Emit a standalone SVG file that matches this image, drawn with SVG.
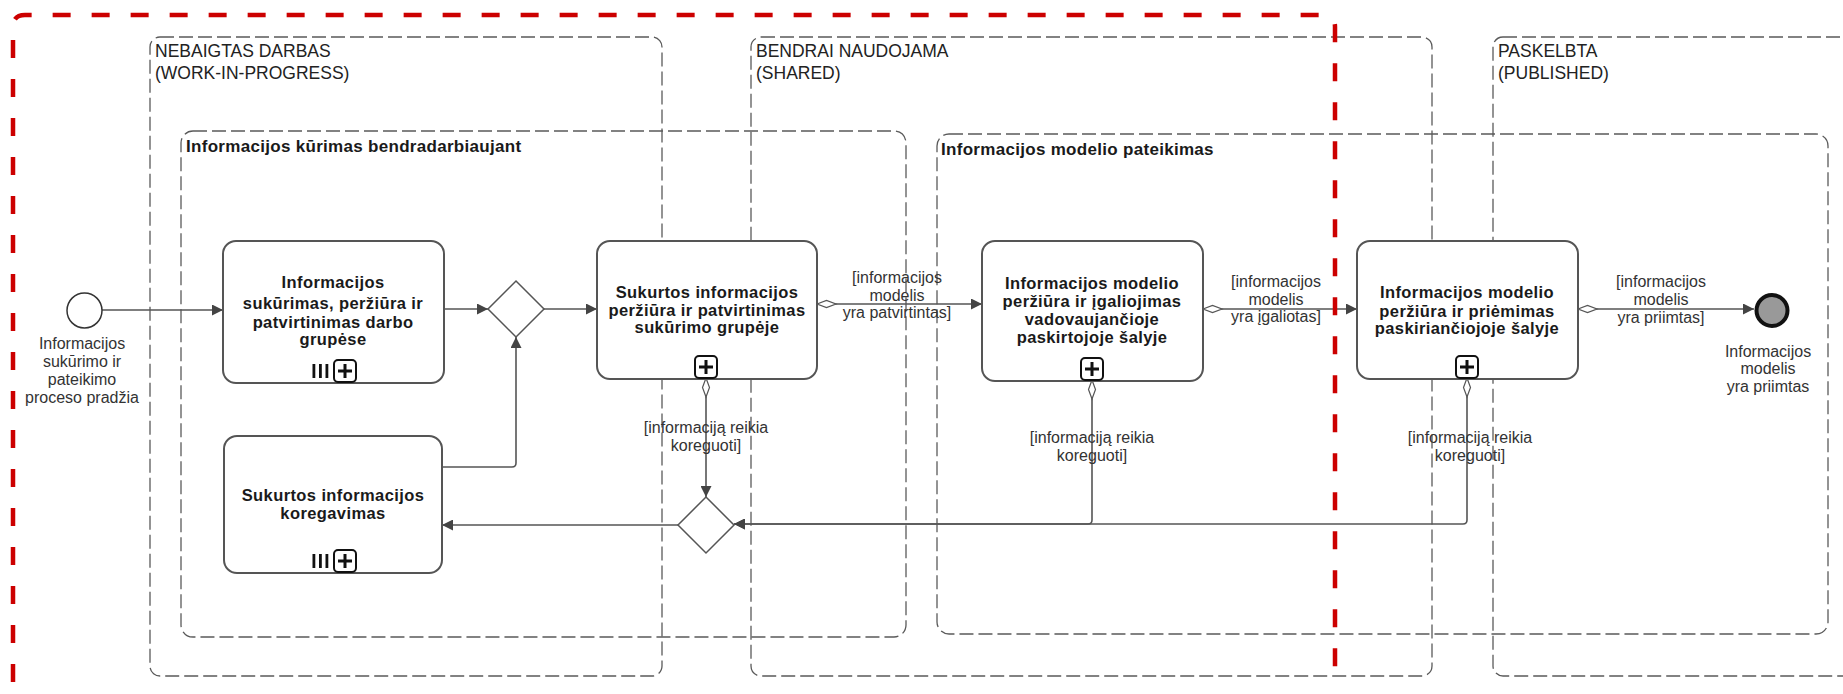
<svg xmlns="http://www.w3.org/2000/svg" width="1843" height="694" viewBox="0 0 1843 694">
  <style>
    .lane { fill: none; stroke: #5a5a5a; stroke-width: 1.3; stroke-dasharray: 14 5; }
    .sub { fill: none; stroke: #5a5a5a; stroke-width: 1.3; stroke-dasharray: 14 5; }
    .task { fill: #ffffff; stroke: #555555; stroke-width: 2; }
    .gw { fill: #ffffff; stroke: #555555; stroke-width: 1.5; }
    .flow { fill: none; stroke: #555555; stroke-width: 1.6; }
    .pbox { fill: #ffffff; stroke: #111111; stroke-width: 2; }
    .pline { stroke: #111111; stroke-width: 3; }
    .bar { fill: #111111; }
    .lt { font-family: "Liberation Sans", Arial, sans-serif; font-size: 17.5px; fill: #222222; }
    .st { font-family: "Liberation Sans", Arial, sans-serif; font-size: 17px; font-weight: bold; fill: #1a1a1a; letter-spacing: 0.3px; }
    .tt { font-family: "Liberation Sans", Arial, sans-serif; font-size: 16.5px; font-weight: bold; fill: #1a1a1a; text-anchor: middle; letter-spacing: 0.4px; }
    .fl { font-family: "Liberation Sans", Arial, sans-serif; font-size: 16px; fill: #333333; text-anchor: middle; }
    .scope { fill: none; stroke: #cc0000; stroke-width: 4.5; stroke-dasharray: 18 21; }
  </style>
  <defs>
    <marker id="arrow" markerUnits="userSpaceOnUse" markerWidth="11" markerHeight="11" refX="11" refY="5.5" orient="auto">
      <path d="M0,0 L11,5.5 L0,11 z" fill="#444444"/>
    </marker>
    <marker id="cond" markerUnits="userSpaceOnUse" markerWidth="22" markerHeight="10" refX="1" refY="5" orient="auto">
      <path d="M1,5 L10.5,1.5 L20,5 L10.5,8.5 z" fill="#ffffff" stroke="#555555" stroke-width="1.2"/>
    </marker>
  </defs>
  <rect width="1843" height="694" fill="#ffffff"/>

  <!-- lanes -->
  <g id="lane-wip">
    <rect class="lane" x="150" y="37" width="512" height="639" rx="10"/>
    <text class="lt" x="155" y="57">NEBAIGTAS DARBAS</text>
    <text class="lt" x="155" y="79">(WORK-IN-PROGRESS)</text>
  </g>
  <g id="lane-shared">
    <rect class="lane" x="751" y="37" width="681" height="639" rx="10"/>
    <text class="lt" x="756" y="57">BENDRAI NAUDOJAMA</text>
    <text class="lt" x="756" y="79">(SHARED)</text>
  </g>
  <g id="lane-published">
    <rect class="lane" x="1493" y="37" width="420" height="639" rx="10"/>
    <text class="lt" x="1498" y="57">PASKELBTA</text>
    <text class="lt" x="1498" y="79">(PUBLISHED)</text>
  </g>

  <!-- expanded sub-processes -->
  <g id="sub-collab">
    <rect class="sub" x="181" y="131" width="725" height="506" rx="12"/>
    <text class="st" x="186" y="152">Informacijos kūrimas bendradarbiaujant</text>
  </g>
  <g id="sub-submit">
    <rect class="sub" x="937" y="134" width="891" height="500" rx="12"/>
    <text class="st" x="941" y="155">Informacijos modelio pateikimas</text>
  </g>

  <!-- connectors -->
  <g id="connectors">
    <path class="flow" d="M102,310 H223" marker-end="url(#arrow)"/>
    <path class="flow" d="M444,309 H488" marker-end="url(#arrow)"/>
    <path class="flow" d="M544,309 H597" marker-end="url(#arrow)"/>
    <path class="flow" d="M442,467 H512 Q516,467 516,463 V337" marker-end="url(#arrow)"/>
    <path class="flow" d="M678,525 H442" marker-end="url(#arrow)"/>
    <path class="flow" d="M706,378 V497" marker-start="url(#cond)" marker-end="url(#arrow)"/>
    <path class="flow" d="M1092,380 V520 Q1092,524 1088,524 H734" marker-start="url(#cond)" marker-end="url(#arrow)"/>
    <path class="flow" d="M1467,378 V520 Q1467,524 1463,524 H734" marker-start="url(#cond)" marker-end="url(#arrow)"/>
    <path class="flow" d="M817,304 H982" marker-start="url(#cond)" marker-end="url(#arrow)"/>
    <path class="flow" d="M1203,309 H1357" marker-start="url(#cond)" marker-end="url(#arrow)"/>
    <path class="flow" d="M1578,309 H1754" marker-start="url(#cond)" marker-end="url(#arrow)"/>

    <text class="fl" x="897" y="283">[informacijos</text>
    <text class="fl" x="897" y="301">modelis</text>
    <text class="fl" x="897" y="318">yra patvirtintas]</text>

    <text class="fl" x="1276" y="287">[informacijos</text>
    <text class="fl" x="1276" y="304.5">modelis</text>
    <text class="fl" x="1276" y="322">yra įgaliotas]</text>

    <text class="fl" x="1661" y="287">[informacijos</text>
    <text class="fl" x="1661" y="305">modelis</text>
    <text class="fl" x="1661" y="323">yra priimtas]</text>

    <text class="fl" x="706" y="433">[informaciją reikia</text>
    <text class="fl" x="706" y="451">koreguoti]</text>

    <text class="fl" x="1092" y="443">[informaciją reikia</text>
    <text class="fl" x="1092" y="461">koreguoti]</text>

    <text class="fl" x="1470" y="443">[informaciją reikia</text>
    <text class="fl" x="1470" y="461">koreguoti]</text>
  </g>

  <!-- start event -->
  <g id="start">
    <circle cx="84.5" cy="310.5" r="17.5" fill="#ffffff" stroke="#333333" stroke-width="1.5"/>
    <text class="fl" x="82" y="349">Informacijos</text>
    <text class="fl" x="82" y="367">sukūrimo ir</text>
    <text class="fl" x="82" y="385">pateikimo</text>
    <text class="fl" x="82" y="403">proceso pradžia</text>
  </g>

  <!-- task: create, review, approve in work groups -->
  <g id="task-create">
    <rect class="task" x="223" y="241" width="221" height="142" rx="13"/>
    <text class="tt" x="333" y="288">Informacijos</text>
    <text class="tt" x="333" y="309">sukūrimas, peržiūra ir</text>
    <text class="tt" x="333" y="328">patvirtinimas darbo</text>
    <text class="tt" x="333" y="345">grupėse</text>
    <rect class="bar" x="312.5" y="364" width="2.8" height="14"/>
    <rect class="bar" x="319" y="364" width="2.8" height="14"/>
    <rect class="bar" x="325.5" y="364" width="2.8" height="14"/>
    <rect class="pbox" x="334" y="360" width="22" height="22" rx="4"/>
    <path class="pline" d="M338,371 H352 M345,364 V378"/>
  </g>

  <!-- gateway after creation -->
  <g id="gw-merge">
    <path class="gw" d="M516,281 L544,309 L516,337 L488,309 z"/>
  </g>

  <!-- task: review and approve in originating group -->
  <g id="task-review">
    <rect class="task" x="597" y="241" width="220" height="138" rx="13"/>
    <text class="tt" x="707" y="298">Sukurtos informacijos</text>
    <text class="tt" x="707" y="316">peržiūra ir patvirtinimas</text>
    <text class="tt" x="707" y="333">sukūrimo grupėje</text>
    <rect class="pbox" x="695" y="356" width="22" height="22" rx="4"/>
    <path class="pline" d="M699,367 H713 M706,360 V374"/>
  </g>

  <!-- task: review and authorise by lead appointed party -->
  <g id="task-authorise">
    <rect class="task" x="982" y="241" width="221" height="140" rx="13"/>
    <text class="tt" x="1092" y="289">Informacijos modelio</text>
    <text class="tt" x="1092" y="307">peržiūra ir įgaliojimas</text>
    <text class="tt" x="1092" y="325">vadovaujančioje</text>
    <text class="tt" x="1092" y="343">paskirtojoje šalyje</text>
    <rect class="pbox" x="1081" y="358" width="22" height="22" rx="4"/>
    <path class="pline" d="M1085,369 H1099 M1092,362 V376"/>
  </g>

  <!-- task: review and accept by appointing party -->
  <g id="task-accept">
    <rect class="task" x="1357" y="241" width="221" height="138" rx="13"/>
    <text class="tt" x="1467" y="298">Informacijos modelio</text>
    <text class="tt" x="1467" y="317">peržiūra ir priėmimas</text>
    <text class="tt" x="1467" y="334">paskiriančiojoje šalyje</text>
    <rect class="pbox" x="1456" y="356" width="22" height="22" rx="4"/>
    <path class="pline" d="M1460,367 H1474 M1467,360 V374"/>
  </g>

  <!-- task: correction of created information -->
  <g id="task-correct">
    <rect class="task" x="224" y="436" width="218" height="137" rx="13"/>
    <text class="tt" x="333" y="501">Sukurtos informacijos</text>
    <text class="tt" x="333" y="519">koregavimas</text>
    <rect class="bar" x="312.5" y="554" width="2.8" height="14"/>
    <rect class="bar" x="319" y="554" width="2.8" height="14"/>
    <rect class="bar" x="325.5" y="554" width="2.8" height="14"/>
    <rect class="pbox" x="334" y="550" width="22" height="22" rx="4"/>
    <path class="pline" d="M338,561 H352 M345,554 V568"/>
  </g>

  <!-- gateway collecting correction requests -->
  <g id="gw-correct">
    <path class="gw" d="M706,497 L734,525 L706,553 L678,525 z"/>
  </g>

  <!-- end event -->
  <g id="end">
    <circle cx="1772" cy="310.5" r="15.5" fill="#999999" stroke="#111111" stroke-width="4"/>
    <text class="fl" x="1768" y="357">Informacijos</text>
    <text class="fl" x="1768" y="374">modelis</text>
    <text class="fl" x="1768" y="392">yra priimtas</text>
  </g>

  <!-- scope boundary -->
  <g id="scope">
    <path class="scope" d="M13,682 V27 Q13,15 25,15 H1323 Q1335,15 1335,27 V682"/>
  </g>
</svg>
